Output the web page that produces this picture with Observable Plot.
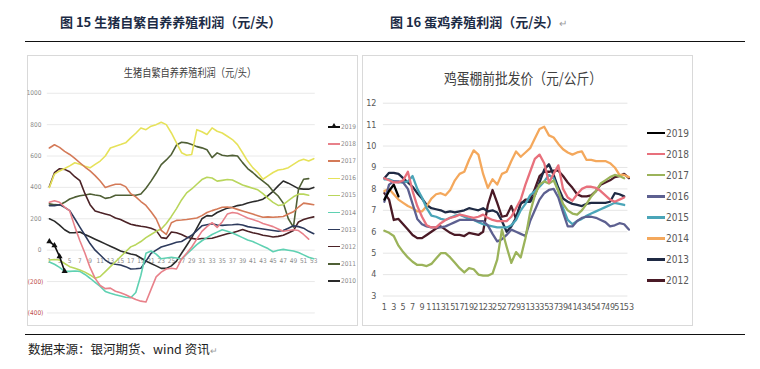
<!DOCTYPE html>
<html><head><meta charset="utf-8">
<script src="https://cdn.jsdelivr.net/npm/d3@7"></script>
<script src="https://cdn.jsdelivr.net/npm/@observablehq/plot@0.6"></script>
<style>
body{margin:0;background:#fff;}
#page{position:relative;width:760px;height:369px;overflow:hidden;background:#fff;font-family:"Noto Sans CJK SC","Noto Sans",sans-serif;}
.hdr{position:absolute;top:13px;font-size:13px;font-weight:bold;color:#1c2b45;white-space:nowrap;line-height:18px;}
.pm{color:#9a9a9a;font-weight:normal;font-size:10px;}
.hr{position:absolute;left:25px;width:720px;height:0;border-top:1.6px solid #111;}
.box{position:absolute;top:55px;height:271px;width:331px;border:1px solid #d9d9d9;box-sizing:border-box;}
.box svg{position:absolute;left:-1px;top:-1px;}
.ttl{position:absolute;white-space:nowrap;color:#404040;transform:translate(-50%,-50%);}
.leg{position:absolute;white-space:nowrap;display:flex;align-items:center;}
.leg .ln{display:inline-block;position:relative;}
.foot{position:absolute;left:28px;top:340px;font-size:12.5px;color:#222;white-space:nowrap;line-height:18px;}
</style></head>
<body><div id="page">
<div class="hdr" style="left:60px">图 15 生猪自繁自养养殖利润（元/头）</div>
<div class="hdr" style="left:390px">图 16 蛋鸡养殖利润（元/头）<span class="pm">↵</span></div>
<div class="hr" style="top:41px"></div>
<div class="box" id="pigBox" style="left:27px"></div>
<div class="box" id="eggBox" style="left:362px"></div>
<div class="ttl" style="left:190px;top:72px;font-size:11.5px;transform:translate(-50%,-50%) scaleX(0.8)">生猪自繁自养养殖利润（元/头）</div>
<div class="ttl" style="left:523px;top:77px;font-size:15px;transform:translate(-50%,-50%) scaleX(0.85)">鸡蛋棚前批发价（元/公斤）</div>
<div class="hr" style="top:334px"></div>
<div class="foot">数据来源：银河期货、wind 资讯<span class="pm" style="font-size:9px">↵</span></div>
</div>
<script>
// ---------- Figure 15: hog profit (元/头) ----------
const pigYears = ["2019","2018","2017","2016","2015","2014","2013","2012","2011","2010"];
const pigColors = ["#111111","#e8818a","#d47a58","#e6e25a","#b9d65c","#5fd1b2","#2d3a5c","#4b2226","#4f5f35","#2a2a2a"];
const pigTicks = [1000,800,600,400,200,0,-200,-400];
const pigWeekLabels = [1,3,5,7,9,11,13,15,17,19,21,23,25,27,29,31,33,35,37,39,41,43,45,47,49,51,53];

const pig2019 = [[1,55],[2,30],[3,-40],[4,-135]];
const pig2018 = [[1,305],[2,315],[3,305],[4,275],[5,250],[6,150],[7,60],[8,-20],[9,-110],[10,-180],[11,-225],[12,-245],[13,-242],[14,-262],[15,-272],[16,-284],[17,-300],[18,-315],[19,-325],[20,-330],[21,-250],[22,-170],[23,-140],[24,-120],[25,-115],[26,-120],[27,-57],[28,-20],[29,20],[30,70],[31,120],[32,150],[33,175],[34,145],[35,180],[36,230],[37,240],[38,235],[39,220],[40,205],[41,195],[42,185],[43,170],[44,160],[45,150],[46,135],[47,120],[48,125],[49,130],[50,125],[51,100],[52,70]];
const pig2017 = [[1,651],[2,672],[3,655],[4,630],[5,610],[6,585],[7,557],[8,530],[9,505],[10,475],[11,441],[12,400],[13,410],[14,420],[15,420],[16,405],[17,360],[18,340],[19,310],[20,285],[21,245],[22,200],[23,126],[24,100],[25,175],[26,190],[27,192],[28,195],[29,200],[30,205],[31,220],[32,240],[33,252],[34,262],[35,273],[36,275],[37,270],[38,260],[39,250],[40,240],[41,230],[42,220],[43,210],[44,212],[45,210],[46,212],[47,215],[48,230],[49,245],[50,275],[51,300],[52,295],[53,290]];
const pig2016 = [[1,400],[2,485],[3,505],[4,520],[5,537],[6,557],[7,547],[8,535],[9,525],[10,547],[11,568],[12,600],[13,651],[14,663],[15,673],[16,684],[17,716],[18,745],[19,779],[20,768],[21,790],[22,800],[23,815],[24,800],[25,747],[26,684],[27,621],[28,605],[29,610],[30,768],[31,755],[32,737],[33,779],[34,758],[35,747],[36,726],[37,705],[38,673],[39,621],[40,568],[41,526],[42,495],[43,452],[44,473],[45,495],[46,511],[47,516],[48,526],[49,547],[50,568],[51,579],[52,568],[53,583]];
const pig2015 = [[1,-63],[2,-60],[3,-63],[4,-85],[5,-105],[6,-115],[7,-126],[8,-140],[9,-158],[10,-179],[11,-168],[12,-137],[13,-105],[14,-74],[15,-42],[16,-10],[17,21],[18,35],[19,55],[20,80],[21,100],[22,120],[23,135],[24,170],[25,215],[26,265],[27,320],[28,365],[29,390],[30,420],[31,450],[32,465],[33,460],[34,440],[35,445],[36,450],[37,447],[38,431],[39,415],[40,405],[41,395],[42,385],[43,360],[44,330],[45,305],[46,285],[47,290],[48,315],[49,340],[50,357],[51,357],[52,350]];
const pig2014 = [[1,-75],[2,-90],[3,-110],[4,-135],[5,-135],[6,-133],[7,-135],[8,-155],[9,-179],[10,-205],[11,-231],[12,-263],[13,-275],[14,-284],[15,-292],[16,-300],[17,-303],[18,-270],[19,-160],[20,-20],[21,-5],[22,-25],[23,-55],[24,-50],[25,-45],[26,-50],[27,-57],[28,-25],[29,5],[30,35],[31,60],[32,80],[33,100],[34,115],[35,130],[36,120],[37,110],[38,95],[39,80],[40,65],[41,55],[42,40],[43,25],[44,10],[45,-10],[46,0],[47,5],[48,0],[49,-5],[50,-15],[51,-30],[52,-45],[53,-55]];
const pig2013 = [[1,284],[2,284],[3,290],[4,273],[5,252],[6,200],[7,147],[8,95],[9,42],[10,0],[11,-31],[12,-63],[13,-84],[14,-90],[15,-95],[16,-105],[17,-120],[18,-118],[19,-115],[20,-70],[21,-20],[22,0],[23,20],[24,30],[25,40],[26,50],[27,55],[28,75],[29,95],[30,125],[31,155],[32,162],[33,168],[34,160],[35,158],[36,160],[37,162],[38,165],[39,160],[40,150],[41,145],[42,140],[43,135],[44,130],[45,125],[46,120],[47,125],[48,140],[49,155],[50,150],[51,140],[52,120],[53,105]];
const pig2012 = [[1,405],[2,494],[3,519],[4,515],[5,500],[6,468],[7,443],[8,360],[9,290],[10,250],[11,240],[12,231],[13,222],[14,205],[15,195],[16,180],[17,165],[18,158],[19,152],[20,148],[21,140],[22,126],[23,80],[24,75],[25,116],[26,111],[27,100],[28,84],[29,75],[30,70],[31,74],[32,74],[33,76],[34,85],[35,95],[36,105],[37,111],[38,120],[39,132],[40,120],[41,111],[42,105],[43,95],[44,90],[45,84],[46,88],[47,95],[48,110],[49,125],[50,180],[51,195],[52,205],[53,212]];
const pig2011 = [[1,295],[2,290],[3,288],[4,305],[5,326],[6,338],[7,347],[8,352],[9,358],[10,352],[11,347],[12,330],[13,336],[14,350],[15,350],[16,350],[17,350],[18,350],[19,358],[20,395],[21,440],[22,490],[23,545],[24,575],[25,610],[26,670],[27,688],[28,684],[29,674],[30,660],[31,652],[32,640],[33,590],[34,620],[35,605],[36,600],[37,604],[38,600],[39,558],[40,520],[41,495],[42,465],[43,440],[44,415],[45,375],[46,345],[47,300],[48,200],[49,147],[50,389],[51,452],[52,456]];
const pig2010 = [[1,200],[2,185],[3,160],[4,130],[5,111],[6,112],[7,116],[8,100],[9,85],[10,70],[11,55],[12,40],[13,25],[14,10],[15,-5],[16,-15],[17,-25],[18,-31],[19,-50],[20,-70],[21,-85],[22,-100],[23,-116],[24,-116],[25,-100],[26,-70],[27,-20],[28,30],[29,80],[30,140],[31,200],[32,220],[33,218],[34,240],[35,255],[36,268],[37,273],[38,284],[39,290],[40,300],[41,308],[42,315],[43,325],[44,347],[45,375],[46,410],[47,441],[48,427],[49,410],[50,392],[51,389],[52,389],[53,400]];
const pigSeries = [pig2019,pig2018,pig2017,pig2016,pig2015,pig2014,pig2013,pig2012,pig2011,pig2010];

// ---------- Figure 16: egg wholesale price (元/公斤) ----------
const eggYears = ["2019","2018","2017","2016","2015","2014","2013","2012"];
const eggColors = ["#000000","#e8707c","#9bb35a","#5d6090","#4aa5b8","#f4a85c","#1f2a44","#4a1a26"];
const eggTicks = [3,4,5,6,7,8,9,10,11,12];
const eggWeekLabels = [1,3,5,7,9,11,13,15,17,19,21,23,25,27,29,31,33,35,37,39,41,43,45,47,49,51,53];

const egg2019 = [[1,7.5],[2,7.9],[3,8.2],[4,7.65]];
const egg2018 = [[1,8.5],[2,8.4],[3,8.3],[4,8.3],[5,8.4],[6,8.8],[7,7.9],[8,7.2],[9,6.7],[10,6.3],[11,6.2],[12,6.2],[13,6.4],[14,6.55],[15,6.65],[16,6.7],[17,6.8],[18,6.75],[19,6.7],[20,6.65],[21,6.7],[22,6.8],[23,6.65],[24,6.55],[25,6.5],[26,6.5],[27,6.5],[28,6.7],[29,7.1],[30,7.5],[31,8.2],[32,8.8],[33,9.4],[34,9.6],[35,9.2],[36,8.3],[37,8.7],[38,9.1],[39,8.0],[40,7.6],[41,7.45],[42,7.75],[43,8.0],[44,8.1],[45,8.1],[46,8.05],[47,7.9],[48,7.7],[49,7.5],[50,7.4],[51,7.5],[52,7.6]];
const egg2017 = [[1,6.05],[2,5.95],[3,5.8],[4,5.35],[5,5.05],[6,4.8],[7,4.6],[8,4.45],[9,4.45],[10,4.4],[11,4.5],[12,4.75],[13,5.0],[14,5.0],[15,4.8],[16,4.55],[17,4.3],[18,4.1],[19,4.3],[20,4.25],[21,4.0],[22,3.95],[23,3.95],[24,4.05],[25,4.7],[26,6.1],[27,5.3],[28,4.55],[29,5.05],[30,4.8],[31,5.7],[32,6.9],[33,7.7],[34,8.2],[35,8.35],[36,8.25],[37,8.4],[38,7.9],[39,7.3],[40,7.0],[41,6.85],[42,6.8],[43,7.0],[44,7.3],[45,7.65],[46,7.9],[47,8.25],[48,8.4],[49,8.55],[50,8.65],[51,8.6],[52,8.5]];
const egg2016 = [[1,7.4],[2,8.2],[3,8.35],[4,8.35],[5,8.3],[6,8.0],[7,7.3],[8,6.6],[9,6.35],[10,6.25],[11,6.2],[12,6.2],[13,6.2],[14,6.25],[15,6.35],[16,6.45],[17,6.55],[18,6.55],[19,6.55],[20,6.55],[21,6.5],[22,6.5],[23,6.3],[24,5.9],[25,5.55],[26,5.65],[27,5.85],[28,6.1],[29,6.0],[30,5.9],[31,5.8],[32,6.5],[33,7.0],[34,7.5],[35,7.8],[36,7.95],[37,8.0],[38,7.6],[39,6.9],[40,6.25],[41,6.25],[42,6.5],[43,6.65],[44,6.7],[45,6.7],[46,6.65],[47,6.55],[48,6.45],[49,6.25],[50,6.3],[51,6.4],[52,6.35],[53,6.1]];
const egg2015 = [[1,8.45],[2,8.45],[3,8.35],[4,8.3],[5,8.3],[6,8.35],[7,8.6],[8,8.0],[9,7.6],[10,7.1],[11,6.75],[12,6.7],[13,6.6],[14,6.55],[15,6.65],[16,6.75],[17,6.8],[18,6.7],[19,6.6],[20,6.55],[21,6.45],[22,6.35],[23,6.3],[24,6.25],[25,6.2],[26,6.2],[27,6.2],[28,6.3],[29,6.55],[30,7.0],[31,7.3],[32,7.7],[33,7.9],[34,8.1],[35,8.35],[36,8.65],[37,8.5],[38,7.9],[39,7.1],[40,6.55],[41,6.35],[42,6.5],[43,6.6],[44,6.75],[45,6.85],[46,6.95],[47,7.05],[48,7.15],[49,7.25],[50,7.35],[51,7.3],[52,7.25]];
const egg2014 = [[1,7.9],[2,8.0],[3,7.75],[4,7.5],[5,7.35],[6,7.2],[7,7.1],[8,6.95],[9,6.95],[10,7.2],[11,7.55],[12,7.75],[13,7.8],[14,7.7],[15,7.95],[16,8.4],[17,8.7],[18,8.8],[19,9.35],[20,9.8],[21,9.6],[22,8.7],[23,8.05],[24,8.45],[25,8.2],[26,8.7],[27,8.8],[28,9.3],[29,9.75],[30,9.5],[31,9.7],[32,9.9],[33,10.35],[34,10.8],[35,10.9],[36,10.5],[37,10.4],[38,10.1],[39,9.85],[40,9.7],[41,9.6],[42,9.7],[43,9.75],[44,9.35],[45,9.35],[46,9.3],[47,9.3],[48,9.3],[49,9.2],[50,9.0],[51,8.65],[52,8.65],[53,8.55]];
const egg2013 = [[1,8.5],[2,8.75],[3,8.75],[4,8.7],[5,8.5],[6,8.3],[7,8.1],[8,7.8],[9,7.55],[10,7.25],[11,7.1],[12,7.05],[13,7.0],[14,6.9],[15,6.95],[16,6.9],[17,6.95],[18,7.0],[19,7.1],[20,7.05],[21,7.0],[22,7.1],[23,6.95],[24,7.0],[25,6.9],[26,6.5],[27,6.0],[28,6.25],[29,6.65],[30,7.35],[31,7.4],[32,7.4],[33,7.7],[34,8.3],[35,8.9],[36,9.15],[37,8.65],[38,8.05],[39,7.55],[40,7.4],[41,7.3],[42,7.25],[43,7.2],[44,7.3],[45,7.35],[46,7.35],[47,7.35],[48,7.35],[49,7.4],[50,7.8],[51,7.75],[52,7.65]];
const egg2012 = [[1,7.8],[2,7.5],[3,6.55],[4,6.6],[5,6.35],[6,6.1],[7,5.85],[8,5.7],[9,5.7],[10,5.85],[11,6.0],[12,6.15],[13,6.25],[14,6.1],[15,5.95],[16,5.85],[17,5.85],[18,5.8],[19,5.95],[20,5.9],[21,5.85],[22,6.0],[23,7.25],[24,7.95],[25,7.35],[26,6.7],[27,6.75],[28,7.2],[29,6.6],[30,7.3],[31,7.5],[32,7.5],[33,8.0],[34,8.6],[35,8.8],[36,8.8],[37,8.85],[38,8.85],[39,8.6],[40,8.3],[41,8.05],[42,7.75],[43,7.65],[44,7.65],[45,7.7],[46,7.9],[47,8.2],[48,8.3],[49,8.4],[50,8.55],[51,8.6],[52,8.7],[53,8.5]];
const eggSeries = [egg2019,egg2018,egg2017,egg2016,egg2015,egg2014,egg2013,egg2012];

const FONT = '"Liberation Sans Narrow","DejaVu Sans Condensed","Liberation Sans",sans-serif';
function rows(years, series){
  const out = [];
  for (let i = years.length - 1; i >= 0; i--) series[i].forEach(([w,v]) => out.push({year: years[i], week: w, value: v}));
  return out;
}
const pigRows = rows(pigYears, pigSeries);
const eggRows = rows(eggYears, eggSeries);
const pig2019Rows = pigRows.filter(d => d.year === "2019");

const pigPlot = Plot.plot({
  width: 331, height: 270,
  marginLeft: 22, marginRight: 43, marginTop: 38, marginBottom: 11,
  x: {domain: [1,53], axis: null},
  y: {domain: [-400,1000], axis: null},
  color: {domain: pigYears, range: pigColors},
  style: {fontFamily: FONT, background: "transparent", overflow: "visible"},
  marks: [
    Plot.ruleY(pigTicks, {y: d => d, x1: 0.6, x2: 53.3, stroke: "#e3e3e3", strokeWidth: 0.8}),
    Plot.text(pigTicks.filter(d => d >= 0), {y: d => d, frameAnchor: "left", textAnchor: "end", dx: -8, text: d => String(d), fill: "#8a8a8a", fontSize: 6.5}),
    Plot.text(pigTicks.filter(d => d < 0), {y: d => d, frameAnchor: "left", textAnchor: "end", dx: -6, text: d => "(" + (-d) + ")", fill: "#c0504d", fontSize: 6.5}),
    Plot.text(pigWeekLabels, {x: d => d, y: d => 0, dy: 11, text: d => String(d), fill: "#8a8a8a", fontSize: 6.5}),
    Plot.line(pigRows, {x: "week", y: "value", z: "year", stroke: "year", strokeWidth: 1.6, strokeLinejoin: "round"}),
    Plot.dot(pig2019Rows, {x: "week", y: "value", symbol: "triangle", r: 2.3, fill: "#111", stroke: "none"})
  ]
});
document.getElementById("pigBox").appendChild(pigPlot);

const eggPlot = Plot.plot({
  width: 331, height: 270,
  marginLeft: 22, marginRight: 63, marginTop: 48, marginBottom: 28,
  x: {domain: [1,53], axis: null},
  y: {domain: [3,12], axis: null},
  color: {domain: eggYears, range: eggColors},
  style: {fontFamily: FONT, background: "transparent", overflow: "visible"},
  marks: [
    Plot.ruleY(eggTicks, {y: d => d, x1: 0.8, x2: 52.8, stroke: "#e2e2e2", strokeWidth: 0.9}),
    Plot.text(eggTicks, {y: d => d, frameAnchor: "left", textAnchor: "end", dx: -8, text: d => String(d), fill: "#595959", fontSize: 9}),
    Plot.text(eggWeekLabels, {x: d => d, frameAnchor: "bottom", dy: 14, text: d => String(d), fill: "#595959", fontSize: 9}),
    Plot.line(eggRows, {x: "week", y: "value", z: "year", stroke: "year", strokeWidth: 2.3, strokeLinejoin: "round"})
  ]
});
document.getElementById("eggBox").appendChild(eggPlot);

// legends (HTML)
const page = document.getElementById("page");
function legend(years, colors, x, y0, step, lw, lh, fs, tcolor, marker){
  years.forEach((yr, i) => {
    const d = document.createElement("div");
    d.className = "leg";
    d.style.left = x + "px";
    d.style.top = (y0 + i*step - 6) + "px";
    d.style.height = "12px";
    const ln = document.createElement("span");
    ln.className = "ln";
    ln.style.width = lw + "px";
    ln.style.height = lh + "px";
    ln.style.background = colors[i];
    if (marker && i === 0) {
      const t = document.createElement("span");
      t.style.cssText = "position:absolute;left:" + (lw/2-3) + "px;top:-3px;width:0;height:0;border-left:3px solid transparent;border-right:3px solid transparent;border-bottom:5px solid " + colors[i];
      ln.appendChild(t);
    }
    const tx = document.createElement("span");
    tx.textContent = yr;
    tx.style.cssText = "font-family:" + FONT.replace(/"/g,"'") + ";font-size:" + fs + "px;color:" + tcolor + ";margin-left:1px";
    d.appendChild(ln); d.appendChild(tx);
    page.appendChild(d);
  });
}
legend(pigYears, pigColors, 328, 127, 17.1, 12, 1.6, 6.5, "#8a8a8a", true);
legend(eggYears, eggColors, 647, 133, 21.1, 18, 2.6, 10, "#595959", false);
</script>
</body></html>
